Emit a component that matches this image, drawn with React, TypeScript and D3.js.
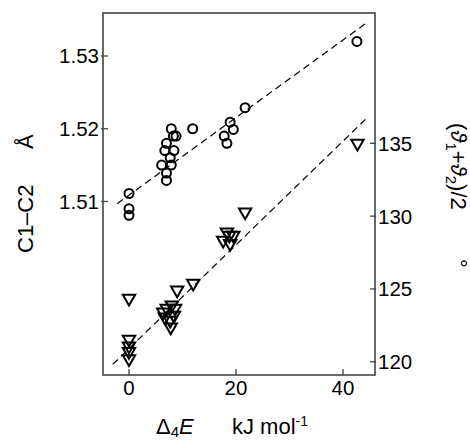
import React, { useEffect, useRef } from "react";
import * as d3 from "d3";

// C1–C2 bond length (left axis, circles)
const bondE = [0, 0, 0, 7.9, 8.3, 8.8, 7.0, 6.7, 8.4, 7.7, 6.1, 7.9, 7.0, 7.0, 11.9, 17.8, 18.3, 18.9, 19.5, 21.7, 42.6];
const bondLen = [1.5111, 1.509, 1.5081, 1.52, 1.519, 1.519, 1.518, 1.517, 1.517, 1.516, 1.515, 1.515, 1.5139, 1.5129, 1.52, 1.519, 1.518, 1.5209, 1.5199, 1.5229, 1.532];

// (θ1+θ2)/2 angle (right axis, triangles)
const angleE = [0, 0, 0, 0, 0, 9.0, 12.0, 7.05, 8.0, 8.6, 6.4, 6.7, 7.7, 7.8, 8.4, 18.3, 19.5, 17.6, 18.9, 18.75, 21.7, 42.7];
const angleVal = [124.35, 121.54, 121.08, 120.7, 120.2, 124.92, 125.38, 123.67, 123.9, 123.67, 123.41, 123.07, 122.84, 122.38, 123.19, 128.9, 128.68, 128.34, 128.11, 128.68, 130.28, 135.0];

// dashed regression lines
const bondFitE = [-2.2, 44.5];
const bondFitLen = [1.5097, 1.5346];
const angleFitE = [-3.05, 44.55];
const angleFitVal = [119.82, 136.77];

const xTicks = [0, 20, 40];
const leftTicks = [1.51, 1.52, 1.53];
const rightTicks = [120, 125, 130, 135];

const W = 470;
const H = 441;
const FONT = "'Liberation Sans', Arial, sans-serif";

export default function App() {
    const ref = useRef<HTMLDivElement>(null);

    useEffect(() => {
        drawChart();
    }, []);

    function drawChart() {
        d3.select(ref.current).select("svg").remove();

        const svg = d3
            .select(ref.current)
            .append("svg")
            .attr("width", W)
            .attr("height", H)
            .style("position", "absolute")
            .style("left", 0)
            .style("top", 0)
            .style("background", "#fff")
            .style("font-family", FONT);

        const left = 103, right = 375, top = 13, bottom = 375;

        const x = d3.scaleLinear().domain([-4.86, 45.98]).range([left, right]);
        const yL = d3.scaleLinear().domain([1.48615, 1.53591]).range([bottom, top]);
        const yR = d3.scaleLinear().domain([119.09, 143.95]).range([bottom, top]);

        // frame
        svg.append("rect")
            .attr("x", left)
            .attr("y", top)
            .attr("width", right - left)
            .attr("height", bottom - top)
            .attr("fill", "none")
            .attr("stroke", "#444")
            .attr("stroke-width", 1.6);

        // left ticks
        const lt = svg.append("g");
        leftTicks.forEach((t) => {
            lt.append("line")
                .attr("x1", left - 2).attr("x2", left + 5)
                .attr("y1", yL(t)).attr("y2", yL(t))
                .attr("stroke", "#444").attr("stroke-width", 1.3);
            lt.append("text")
                .attr("x", left - 4)
                .attr("y", yL(t))
                .attr("dy", "0.36em")
                .attr("text-anchor", "end")
                .attr("font-size", 20.5)
                .text(d3.format(".2f")(t));
        });

        // right ticks
        const rt = svg.append("g");
        rightTicks.forEach((t) => {
            rt.append("line")
                .attr("x1", right - 5).attr("x2", right + 1)
                .attr("y1", yR(t)).attr("y2", yR(t))
                .attr("stroke", "#444").attr("stroke-width", 1.3);
            rt.append("text")
                .attr("x", right + 3)
                .attr("y", yR(t))
                .attr("dy", "0.36em")
                .attr("font-size", 20.5)
                .text(t);
        });

        // bottom ticks
        const bt = svg.append("g");
        xTicks.forEach((t) => {
            bt.append("line")
                .attr("x1", x(t)).attr("x2", x(t))
                .attr("y1", bottom - 6).attr("y2", bottom)
                .attr("stroke", "#444").attr("stroke-width", 1.3);
            bt.append("text")
                .attr("x", x(t))
                .attr("y", bottom + 20)
                .attr("text-anchor", "middle")
                .attr("font-size", 20.5)
                .text(t);
        });

        // dashed fit lines
        const bondLine = d3.line<number>().x((d) => x(d)).y((_, i) => yL(bondFitLen[i]));
        const angleLine = d3.line<number>().x((d) => x(d)).y((_, i) => yR(angleFitVal[i]));

        svg.append("path")
            .attr("d", bondLine(bondFitE))
            .attr("fill", "none")
            .attr("stroke", "#000")
            .attr("stroke-width", 1.2)
            .attr("stroke-dasharray", "7,4.5");

        svg.append("path")
            .attr("d", angleLine(angleFitE))
            .attr("fill", "none")
            .attr("stroke", "#000")
            .attr("stroke-width", 1.2)
            .attr("stroke-dasharray", "7,4.5");

        // circles
        svg.append("g")
            .selectAll("circle")
            .data(bondE)
            .enter()
            .append("circle")
            .attr("cx", (d) => x(d))
            .attr("cy", (_, i) => yL(bondLen[i]))
            .attr("r", 4.5)
            .attr("fill", "none")
            .attr("stroke", "#000")
            .attr("stroke-width", 2);

        // down triangles
        const tri = d3.symbol().type(d3.symbolTriangle).size(66);
        svg.append("g")
            .selectAll("path")
            .data(angleE)
            .enter()
            .append("path")
            .attr("d", tri)
            .attr("transform", (d, i) => `translate(${x(d)},${yR(angleVal[i])}) rotate(180)`)
            .attr("fill", "none")
            .attr("stroke", "#000")
            .attr("stroke-width", 2)
            .attr("stroke-linejoin", "miter");

        // left axis title
        svg.append("text")
            .attr("transform", "translate(33,253) rotate(-90)")
            .attr("font-size", 22)
            .text("C1–C2");
        svg.append("text")
            .attr("transform", "translate(33,149) rotate(-90)")
            .attr("font-size", 22)
            .text("Å");

        // right axis title
        const rtitle = svg.append("text")
            .attr("transform", "translate(451,123) rotate(90)")
            .attr("font-size", 22);
        rtitle.append("tspan").text("(");
        rtitle.append("tspan").attr("font-style", "italic").text("ϑ");
        rtitle.append("tspan").attr("font-size", 15).attr("dy", 5).text("1");
        rtitle.append("tspan").attr("dy", -5).text("+");
        rtitle.append("tspan").attr("font-style", "italic").text("ϑ");
        rtitle.append("tspan").attr("font-size", 15).attr("dy", 5).text("2");
        rtitle.append("tspan").attr("dy", -5).text(")/2");
        svg.append("text")
            .attr("transform", "translate(451,259) rotate(90)")
            .attr("font-size", 22)
            .text("°");

        // bottom axis title
        const xt = svg.append("text")
            .attr("x", 156)
            .attr("y", 434)
            .attr("font-size", 22);
        xt.append("tspan").text("Δ");
        xt.append("tspan").attr("font-size", 15).attr("dy", 3).text("4");
        xt.append("tspan").attr("dy", -3).attr("font-style", "italic").text("E");

        const ut = svg.append("text")
            .attr("x", 232)
            .attr("y", 434)
            .attr("font-size", 22);
        ut.append("tspan").text("kJ mol");
        ut.append("tspan").attr("font-size", 14).attr("dy", -8).text("-1");
    }

    return <div ref={ref}></div>;
}
